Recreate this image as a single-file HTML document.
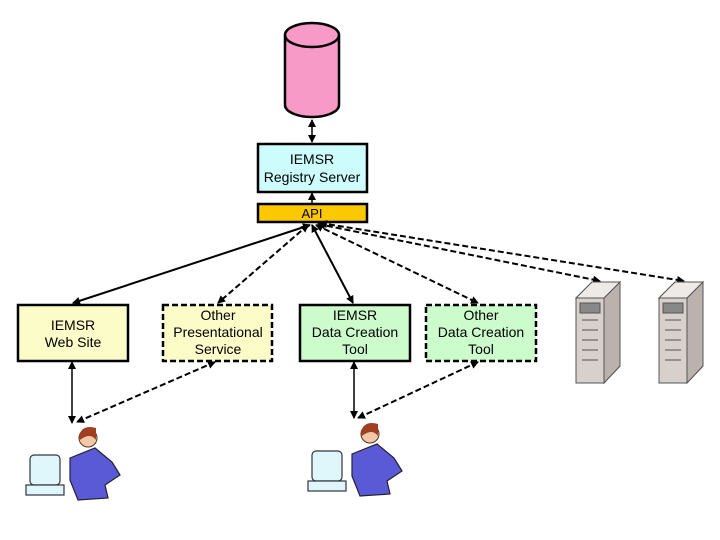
<!DOCTYPE html>
<html><head><meta charset="utf-8"><style>body{margin:0;background:#fff}svg{display:block}text{font-family:"Liberation Sans",sans-serif;font-size:14px;text-anchor:middle}</style></head>
<body>
<svg width="720" height="540" viewBox="0 0 720 540" xmlns="http://www.w3.org/2000/svg">
<defs>
<marker id="a" markerWidth="8" markerHeight="8" refX="7" refY="4" orient="auto-start-reverse" markerUnits="userSpaceOnUse"><path d="M0,0 L8,4 L0,8 z" fill="#000"/></marker>
</defs>
<!-- cylinder -->
<path d="M285,35 L285,105 A27,12 0 0 0 339,105 L339,35" fill="#f79ac8" stroke="#000" stroke-width="2.5"/>
<ellipse cx="312" cy="35" rx="27" ry="12" fill="#f79ac8" stroke="#000" stroke-width="2.5"/>
<line x1="312" y1="120" x2="312" y2="142" stroke="#000" stroke-width="1.5" marker-start="url(#a)" marker-end="url(#a)"/>
<rect x="258" y="144" width="109" height="48" fill="#ccfcfc" stroke="#000" stroke-width="2.5"/>
<text x="312" y="164">IEMSR</text><text x="312" y="182">Registry Server</text>
<line x1="312" y1="193" x2="312" y2="203" stroke="#000" stroke-width="1.5" marker-start="url(#a)"/>
<rect x="258" y="204" width="109" height="18" fill="#fcc800" stroke="#000" stroke-width="2.5"/>
<text x="312" y="218" style="font-size:13px">API</text>
<g stroke="#000" stroke-width="2" fill="none">
<line x1="310" y1="225" x2="73" y2="303" marker-start="url(#a)" marker-end="url(#a)"/>
<line x1="312" y1="225" x2="353" y2="303" marker-start="url(#a)" marker-end="url(#a)"/>
<line x1="72" y1="362" x2="72" y2="423" stroke-width="1.5" marker-start="url(#a)" marker-end="url(#a)"/>
<line x1="354" y1="362" x2="354" y2="418" stroke-width="1.5" marker-start="url(#a)" marker-end="url(#a)"/>
</g>
<g stroke="#000" stroke-width="2" fill="none" stroke-dasharray="6,3">
<line x1="308" y1="225" x2="218" y2="303" marker-start="url(#a)" marker-end="url(#a)"/>
<line x1="316" y1="225" x2="478" y2="303" marker-start="url(#a)" marker-end="url(#a)"/>
<line x1="318" y1="224" x2="600" y2="281" marker-start="url(#a)" marker-end="url(#a)"/>
<line x1="320" y1="223" x2="684" y2="281" marker-start="url(#a)" marker-end="url(#a)"/>
<line x1="215" y1="362" x2="77" y2="422" marker-start="url(#a)" marker-end="url(#a)"/>
<line x1="478" y1="362" x2="358" y2="418" marker-start="url(#a)" marker-end="url(#a)"/>
</g>
<rect x="18" y="305" width="110" height="56" fill="#fcfcc8" stroke="#000" stroke-width="2.5"/>
<text x="73" y="330">IEMSR</text><text x="73" y="347">Web Site</text>
<rect x="163" y="305" width="109" height="56" fill="#fcfcc8" stroke="#000" stroke-width="2.5" stroke-dasharray="6,3"/>
<text x="218" y="320">Other</text><text x="218" y="337">Presentational</text><text x="218" y="354">Service</text>
<rect x="300" y="305" width="110" height="56" fill="#ccfccc" stroke="#000" stroke-width="2.5"/>
<text x="355" y="320">IEMSR</text><text x="355" y="337">Data Creation</text><text x="355" y="354">Tool</text>
<rect x="426" y="305" width="110" height="56" fill="#ccfccc" stroke="#000" stroke-width="2.5" stroke-dasharray="6,3"/>
<text x="481" y="320">Other</text><text x="481" y="337">Data Creation</text><text x="481" y="354">Tool</text>
<!-- servers -->
<g id="srv" stroke="#555" stroke-width="1">
<path d="M576,298 L592,282 L620,282 L620,366 L604,383 L576,383 z" fill="#d8d0cc"/>
<path d="M604,298 L620,282 L620,366 L604,383 z" fill="#bbb2ae"/>
<path d="M576,298 L592,282 L620,282 L604,298 z" fill="#eeeae8"/>
<rect x="580" y="303" width="20" height="10" fill="#888"/>
<line x1="582" y1="320" x2="598" y2="320"/><line x1="582" y1="330" x2="598" y2="330"/><line x1="582" y1="340" x2="598" y2="340"/><line x1="582" y1="350" x2="598" y2="350"/><line x1="582" y1="360" x2="598" y2="360"/>
</g>
<use href="#srv" x="83"/>
<!-- persons -->
<g id="p">
<rect x="30" y="455" width="30" height="30" rx="4" fill="#dff6fa" stroke="#334" stroke-width="1.2"/>
<rect x="26" y="485" width="38" height="10" fill="#dff6fa" stroke="#334" stroke-width="1.2"/>
<path d="M70,458 L95,448 L112,462 L120,475 L105,485 L108,498 L78,500 L70,480 z" fill="#5a5ad6" stroke="#223" stroke-width="1.2"/>
<circle cx="88" cy="438" r="9" fill="#f2c8a8" stroke="#532" stroke-width="1"/>
<path d="M79,436 Q82,424 96,428 L96,440 Q90,432 80,440 z" fill="#a04020"/>
</g>
<use href="#p" x="282" y="-4"/>
</svg>
</body></html>
